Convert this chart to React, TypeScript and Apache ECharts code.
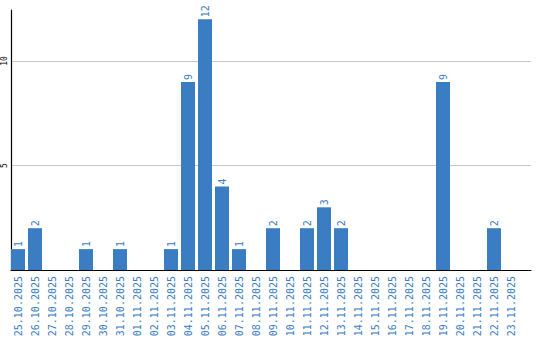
import React, { useEffect, useRef } from "react";
import * as echarts from "echarts";

const categories = [
  "25.10.2025", "26.10.2025", "27.10.2025", "28.10.2025", "29.10.2025",
  "30.10.2025", "31.10.2025", "01.11.2025", "02.11.2025", "03.11.2025",
  "04.11.2025", "05.11.2025", "06.11.2025", "07.11.2025", "08.11.2025",
  "09.11.2025", "10.11.2025", "11.11.2025", "12.11.2025", "13.11.2025",
  "14.11.2025", "15.11.2025", "16.11.2025", "17.11.2025", "18.11.2025",
  "19.11.2025", "20.11.2025", "21.11.2025", "22.11.2025", "23.11.2025",
];
const counts = [
  1, 2, 0, 0, 1, 0, 1, 0, 0, 1,
  9, 12, 4, 1, 0, 2, 0, 2, 3, 2,
  0, 0, 0, 0, 0, 9, 0, 0, 2, 0,
];
const yMax = 12.44;
const yInterval = 5;

const BLUE = "#3a7dc3";
const MONO = "'DejaVu Sans Mono', monospace";

export default function App() {
  const ref = useRef<HTMLDivElement>(null);
  useEffect(() => {
    if (!ref.current) return;
    const chart = echarts.init(ref.current, undefined, { renderer: "svg" });
    chart.setOption({
      animation: false,
      backgroundColor: "#ffffff",
      grid: [
        { left: 10, right: 9, top: 10, bottom: 70, containLabel: false },
        { left: 9.5, width: 510, top: 10, bottom: 70, containLabel: false },
      ],
      xAxis: [
        {
          gridIndex: 0,
          type: "value",
          min: 0,
          max: 1,
          axisLine: { show: true, lineStyle: { color: "#000", width: 1.2 } },
          axisTick: { show: false },
          axisLabel: { show: false },
          splitLine: { show: false },
        },
        {
          gridIndex: 1,
          type: "category",
          data: categories,
          axisLine: { show: false },
          axisTick: { show: false },
          axisLabel: {
            interval: 0,
            rotate: 90,
            margin: 6,
            color: BLUE,
            fontFamily: MONO,
            fontSize: 10,
          },
        },
      ],
      yAxis: [
        {
          gridIndex: 0,
          type: "value",
          min: 0,
          max: yMax,
          interval: yInterval,
          axisLine: { show: true, lineStyle: { color: "#000", width: 1.2 } },
          axisTick: { show: false },
          axisLabel: {
            rotate: 90,
            margin: 3,
            color: "#000",
            fontFamily: MONO,
            fontSize: 8,
            showMinLabel: false,
            showMaxLabel: false,
            formatter: (v: number) => (v % yInterval === 0 && v > 0 ? String(v) : ""),
          },
          splitLine: {
            show: true,
            showMinLine: false,
            showMaxLine: false,
            lineStyle: { color: "#c8c8c8", width: 1 },
          },
        },
        {
          gridIndex: 1,
          type: "value",
          min: 0,
          max: yMax,
          show: false,
          splitLine: { show: false },
        },
      ],
      series: [
        {
          type: "bar",
          xAxisIndex: 1,
          yAxisIndex: 1,
          data: counts,
          barWidth: 14,
          itemStyle: { color: BLUE },
          label: {
            show: true,
            position: "top",
            rotate: 90,
            align: "left",
            verticalAlign: "middle",
            distance: 2,
            color: BLUE,
            fontFamily: MONO,
            fontSize: 10,
            formatter: (p: any) => (p.value ? String(p.value) : ""),
          },
        },
      ],
    });
    return () => chart.dispose();
  }, []);
  return (
    <div
      ref={ref}
      style={{ position: "fixed", left: 0, top: 0, width: 540, height: 340 }}
    />
  );
}
